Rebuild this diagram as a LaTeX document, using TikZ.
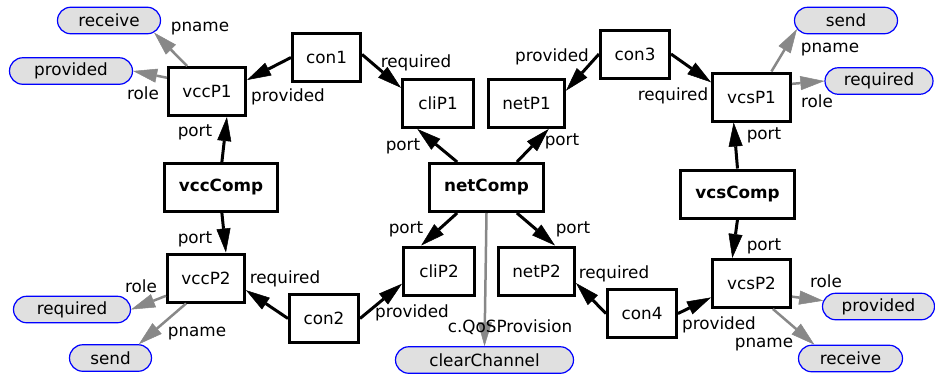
\documentclass[tikz,border=0pt]{standalone}
\usepackage{fontspec}
\setmainfont{DejaVu Sans}
\usetikzlibrary{arrows.meta,shapes.misc}
\definecolor{litfill}{HTML}{E0E0E0}
\definecolor{attrgray}{HTML}{888888}
\begin{document}
\begin{tikzpicture}[x=1pt,y=-1pt,
  txt/.style={font=\fontsize{16.8}{20}\selectfont},
  box/.style={txt,draw=black,line width=3pt,fill=white,inner sep=0pt,minimum height=48pt},
  lit/.style={txt,rounded rectangle,draw=blue,line width=1.2pt,fill=litfill,inner sep=0pt,minimum height=26.5pt},
  lab/.style={txt,inner sep=0pt},
  rel/.style={line width=3pt,arrows={-Triangle[length=24pt,width=14pt,line width=0.5pt]}},
  attr/.style={line width=2.5pt,draw=attrgray,arrows={-Triangle[length=24pt,width=14pt,line width=0.5pt,fill=attrgray]}}
]
\useasboundingbox (0,0) rectangle (935,378);
% boxes
\node[box,minimum width=68pt] (con1) at (326.5,57.5) {con1};
\node[box,minimum width=77pt] (vccP1) at (207,91.5) {vccP1};
\node[box,minimum width=113pt] (vccComp) at (221,187.5) {\bfseries vccComp};
\node[box,minimum width=77pt] (vccP2) at (206,278) {vccP2};
\node[box,minimum width=69pt] (con2) at (324,318.5) {con2};
\node[box,minimum width=71pt] (cliP1) at (438,103.5) {cliP1};
\node[box,minimum width=76pt] (netP1) at (526.5,103.5) {netP1};
\node[box,minimum width=114pt] (netComp) at (486.5,187.5) {\bfseries netComp};
\node[box,minimum width=71pt] (cliP2) at (439,271) {cliP2};
\node[box,minimum width=76pt] (netP2) at (536.5,271) {netP2};
\node[box,minimum width=69pt] (con3) at (635,54) {con3};
\node[box,minimum width=78pt] (vcsP1) at (751.5,97) {vcsP1};
\node[box,minimum width=114pt] (vcsComp) at (737.5,194) {\bfseries vcsComp};
\node[box,minimum width=78pt] (vcsP2) at (751.5,283.5) {vcsP2};
\node[box,minimum width=69pt] (con4) at (642,313.5) {con4};
% literals
\node[lit,minimum width=103pt] (recA) at (109,20.5) {receive};
\node[lit,minimum width=123pt] (provA) at (71,71) {provided};
\node[lit,minimum width=117pt] (reqA) at (72,309.5) {required};
\node[lit,minimum width=82pt] (sendA) at (110.5,358) {send};
\node[lit,minimum width=178pt] (clear) at (484.5,360) {clearChannel};
\node[lit,minimum width=103pt] (sendB) at (846,20.5) {send};
\node[lit,minimum width=108pt] (reqB) at (879,81) {required};
\node[lit,minimum width=112pt] (provB) at (878.5,306.5) {provided};
\node[lit,minimum width=104pt] (recB) at (850.5,358.5) {receive};
% black edges
\draw[rel] (con1.west) -- (vccP1.16);
\draw[rel] (con1.5) -- (cliP1.157);
\draw[rel] (vccComp.88) -- (vccP1.-52);
\draw[rel] (vccComp.-88) -- (vccP2.52);
\draw[rel] (con2.west) -- (vccP2.-17);
\draw[rel] (con2.east) -- (cliP2.199);
\draw[rel] (netComp.139) -- (cliP1.-129);
\draw[rel] (netComp.40) -- (netP1.-49);
\draw[rel] (netComp.-139) -- (cliP2.125);
\draw[rel] (netComp.-40) -- (netP2.54);
\draw[rel] (con3.west) -- (netP1.18);
\draw[rel] (con3.east) -- (vcsP1.160);
\draw[rel] (vcsComp.north) -- (vcsP1.235);
\draw[rel] (vcsComp.south) -- (vcsP2.127);
\draw[rel] (con4.west) -- (netP2.-17);
\draw[rel] (con4.east) -- (vcsP2.199);
% gray edges
\draw[attr] (netComp.south) -- (clear.north);
\draw[attr] (vccP1.128) -- (recA.-15);
\draw[attr] (vccP1.161) -- (provA.east);
\draw[attr] (vccP2.204) -- (reqA.east);
\draw[attr] (vccP2.232) -- (sendA.26);
\draw[attr] (vcsP1.52) -- (sendB.190);
\draw[attr] (vcsP1.18) -- (reqB.west);
\draw[attr] (vcsP2.-18) -- (provB.174);
\draw[attr] (vcsP2.-50) -- (recB.159);
% labels
\node[lab] (l1) at (200,29) {pname};
\node[lab] (l2) at (143,93) {role};
\node[lab] (l3) at (288,97) {provided};
\node[lab] (l4) at (195,132) {port};
\node[lab] (l5) at (416,63) {required};
\node[lab] (l6) at (552,57) {provided};
\node[lab] (l7) at (403,146) {port};
\node[lab] (l8) at (562,141) {port};
\node[lab] (l9) at (830,50) {pname};
\node[lab] (l10) at (817,101) {role};
\node[lab] (l11) at (673,96) {required};
\node[lab] (l12) at (764,135) {port};
\node[lab] (l13) at (195,239) {port};
\node[lab] (l14) at (141,286) {role};
\node[lab] (l15) at (285,279) {required};
\node[lab] (l16) at (197,334) {pname};
\node[lab] (l17) at (406,229) {port};
\node[lab] (l18) at (573,229) {port};
\node[lab] (l19) at (412,313) {provided};
\node[lab] (l20) at (510,327) {c.QoSProvision};
\node[lab] (l21) at (614,274) {required};
\node[lab] (l22) at (764,246) {port};
\node[lab] (l23) at (826,281) {role};
\node[lab] (l24) at (719,325) {provided};
\node[lab] (l25) at (764,345) {pname};
\end{tikzpicture}
\end{document}
